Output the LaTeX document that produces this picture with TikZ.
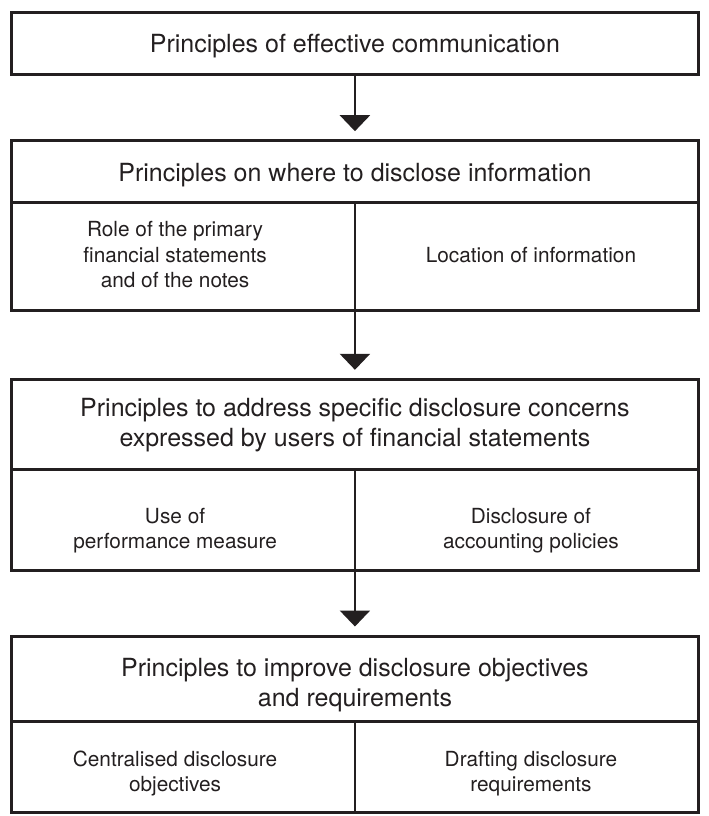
\documentclass[tikz,border=0pt]{standalone}
\usepackage{fontspec}
\setmainfont{TeX Gyre Heros}
\usetikzlibrary{arrows.meta}
\definecolor{ink}{HTML}{231F20}
\begin{document}
\begin{tikzpicture}[x=0.96712pt,y=-1pt,
  box/.style={draw=ink,line width=3pt,inner sep=0pt,minimum width=686.66pt},
  rule/.style={draw=ink,line width=2.5pt},
  head/.style={font=\fontsize{25}{30}\selectfont,text=ink,anchor=base,inner sep=0pt},
  sub/.style={font=\fontsize{20.8}{25}\selectfont,text=ink,anchor=base,inner sep=0pt},
  flow/.style={draw=ink,line width=2.5pt,-{Triangle[width=30pt,length=16pt]},shorten >=8pt},
]
\useasboundingbox (0,0) rectangle (733.1,816);

% boxes
\node[box,minimum height=61.3pt]  (b1) at (367,43.35) {};
\node[box,minimum height=169.3pt] (b2) at (367,225.35) {};
\node[box,minimum height=190.7pt] (b3) at (367,474.65) {};
\node[box,minimum height=176pt]   (b4) at (367,724) {};

% inner rules
\draw[rule] (b2.west |- 0,202.7) -- (b2.east |- 0,202.7);
\draw[rule] (367,202.7) -- (b2.south);
\draw[rule] (b3.west |- 0,469.3) -- (b3.east |- 0,469.3);
\draw[rule] (367,469.3) -- (b3.south);
\draw[rule] (b4.west |- 0,721.7) -- (b4.east |- 0,721.7);
\draw[rule] (367,721.7) -- (b4.south);

% texts
\node[head] (t1) at (367,52.6) {Principles of effective communication};

\node[head] (t2) at (367,181.7) {Principles on where to disclose information};
\node[sub] (t2a) at (181,236.7) {Role of the primary};
\node[sub] (t2b) at (181,262) {financial statements};
\node[sub] (t2c) at (181,287.3) {and of the notes};
\node[sub] (t2d) at (549,262) {Location of information};

\node[head] (t3a) at (367,416) {Principles to address specific disclosure concerns};
\node[head] (t3b) at (367,446) {expressed by users of financial statements};
\node[sub] (t3c) at (181,523) {Use of};
\node[sub] (t3d) at (181,548) {performance measure};
\node[sub] (t3e) at (549,523) {Disclosure of};
\node[sub] (t3f) at (549,548) {accounting policies};

\node[head] (t4a) at (367,676) {Principles to improve disclosure objectives};
\node[head] (t4b) at (367,706) {and requirements};
\node[sub] (t4c) at (181,766) {Centralised disclosure};
\node[sub] (t4d) at (181,791) {objectives};
\node[sub] (t4e) at (549,766) {Drafting disclosure};
\node[sub] (t4f) at (549,791) {requirements};

% connectors
\draw[flow] (b1.south) -- (b2.north);
\draw[flow] (b2.south) -- (b3.north);
\draw[flow] (b3.south) -- (b4.north);
\end{tikzpicture}
\end{document}
